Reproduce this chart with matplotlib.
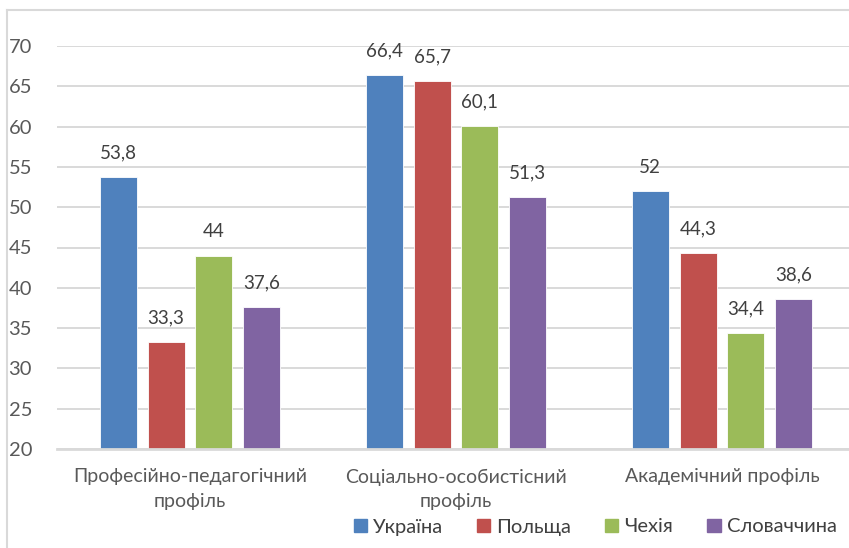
import numpy as np
import matplotlib.pyplot as plt
from matplotlib.lines import Line2D
from matplotlib.patches import Patch

# data
categories = ['Професійно-педагогічний\nпрофіль', 'Соціально-особистісний\nпрофіль', 'Академічний профіль']
series = ['Україна', 'Польща', 'Чехія', 'Словаччина']
ukraine = [53.8, 66.4, 52]
poland = [33.3, 65.7, 44.3]
czech = [44, 60.1, 34.4]
slovakia = [37.6, 51.3, 38.6]
values = [ukraine, poland, czech, slovakia]
colors = ['#4F81BD', '#C0504D', '#9BBB59', '#8064A2']
yticks = [20, 25, 30, 35, 40, 45, 50, 55, 60, 65, 70]

plt.rcParams['font.family'] = ['Lato', 'DejaVu Sans']
txt = '#595959'
grid = '#D9D9D9'

W, H = 849, 548
fig = plt.figure(figsize=(W / 100, H / 100), dpi=100)
ax = fig.add_axes([57 / W, 1 - 449 / H, 798 / W, 403 / H])

x = np.arange(len(categories))
slot = 0.18
width = 0.139
for i, (vals, c) in enumerate(zip(values, colors)):
    pos = x + (i - 1.5) * slot
    ax.bar(pos, vals, width, color=c, zorder=3, edgecolor='white', linewidth=0.6)
    for p, v in zip(pos, vals):
        lab = f'{v:g}'.replace('.', ',')
        ax.annotate(lab, (p, v), xytext=(0, 11), textcoords='offset points',
                    ha='center', va='bottom', fontsize=13.5, color='#404040')

ax.set_xlim(-0.5, 2.5)
ax.set_ylim(20, 70)
ax.set_yticks(yticks)
ax.set_yticklabels([str(t) for t in yticks], fontsize=14.5, color=txt)
ax.set_xticks(x)
ax.set_xticklabels(categories, fontsize=14, color=txt, linespacing=1.55)
ax.tick_params(length=0, pad=14)
ax.tick_params(axis='y', pad=18)
ax.grid(axis='y', color=grid, linewidth=1.4, zorder=0)
for s in ['top', 'right', 'left']:
    ax.spines[s].set_visible(False)
ax.spines['bottom'].set_color(grid)
ax.spines['bottom'].set_linewidth(2)
ax.spines['bottom'].set_zorder(4)

handles = [Patch(color=c, label=s) for c, s in zip(colors, series)]
fig.legend(handles=handles, loc='center', bbox_to_anchor=(595 / W, 1 - 527 / H),
           ncol=4, frameon=False, fontsize=14.5, handlelength=0.65, handleheight=0.65,
           handletextpad=0.3, columnspacing=1.7, labelcolor='#404040')

# chart frame (left and top edges visible)
fig.add_artist(Line2D([6.5 / W, 6.5 / W], [0, 1 - 9.5 / H], color=grid, lw=1.5))
fig.add_artist(Line2D([6.5 / W, 1], [1 - 9.5 / H, 1 - 9.5 / H], color=grid, lw=1.5))

fig.savefig('out.png', dpi=100)
